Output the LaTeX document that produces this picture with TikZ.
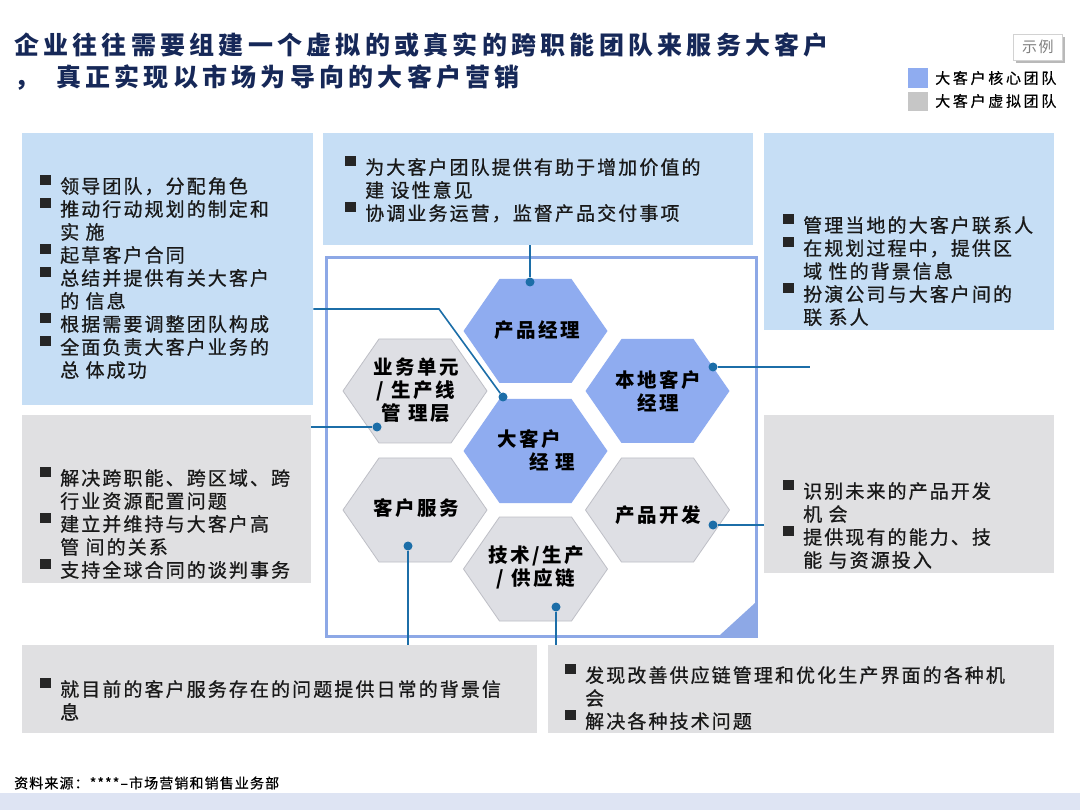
\documentclass[tikz,border=0pt]{standalone}
\usepackage{fontspec}
\setmainfont{Noto Sans CJK SC}
\usetikzlibrary{calc}

\definecolor{boxblue}{RGB}{198,222,245}
\definecolor{boxgrey}{RGB}{224,224,226}
\definecolor{hexblue}{RGB}{143,172,240}
\definecolor{hexgrey}{RGB}{222,223,228}
\definecolor{hexedge}{RGB}{190,191,198}
\definecolor{framec}{RGB}{141,168,230}
\definecolor{linkc}{RGB}{28,110,168}
\definecolor{titlec}{RGB}{22,40,88}
\definecolor{footc}{RGB}{222,228,243}

\newcommand\bsq{\makebox[20pt][l]{\raisebox{0.42em}[0pt][0pt]{\color{black!85}\rule{0.55em}{0.55em}}}}
\newcommand\ind{\hspace*{20pt}}
\newcommand\hexat[3]{\path[#3, shift={(#1,#2)}] (-72,0) -- (-36,-52) -- (36,-52) -- (72,0) -- (36,52) -- (-36,52) -- cycle;}

\tikzset{
  panel/.style={rectangle, draw=none, inner sep=0pt, anchor=north west},
  bluepanel/.style={panel, fill=boxblue},
  greypanel/.style={panel, fill=boxgrey},
  btext/.style={anchor=north west, inner sep=0pt, align=left, text=black!90,
    font=\fontsize{19}{23}\selectfont\addfontfeatures{LetterSpace=11,FakeBold=0.8}},
  hexlabel/.style={inner sep=0pt, align=center, text=black,
    font=\fontsize{19.5}{23}\selectfont\bfseries\addfontfeatures{LetterSpace=13}},
  corehex/.style={fill=hexblue},
  virthex/.style={fill=hexgrey, draw=hexedge, line width=0.8pt},
  link/.style={draw=linkc, line width=1.6pt},
  dot/.style={circle, fill=linkc, inner sep=0pt, minimum size=9pt},
  legtext/.style={anchor=west, inner sep=0pt, text=black,
    font=\fontsize{15}{18}\selectfont\addfontfeatures{LetterSpace=18,FakeBold=0.5}},
}

\begin{document}
\begin{tikzpicture}[x=1pt, y=-1pt]
\useasboundingbox (0,0) rectangle (1080,810);
\fill[white] (0,0) rectangle (1080,810);

% title
\node[anchor=west, inner sep=0pt, text=titlec,
  font=\fontsize{25}{30}\selectfont\bfseries\addfontfeatures{LetterSpace=17}]
  (t1) at (14,45) {企业往往需要组建一个虚拟的或真实的跨职能团队来服务大客户};
\node[anchor=west, inner sep=0pt, text=titlec,
  font=\fontsize{25}{30}\selectfont\bfseries\addfontfeatures{LetterSpace=17}]
  (t2) at (14,78) {，\hspace{17pt}真正实现以市场为导向的大客户营销};

% example tag and legend
\fill[gray!55] (1016,37) rectangle (1065,63);
\node[rectangle, fill=white, draw=gray!35, line width=0.6pt, minimum width=49pt,
  minimum height=26pt, inner sep=0pt, anchor=north west, text=gray,
  font=\fontsize{15}{18}\selectfont\addfontfeatures{LetterSpace=10}] (ex) at (1013,34) {示例};
\node[rectangle, fill=hexblue, minimum width=20pt, minimum height=20pt, inner sep=0pt, anchor=north west] (lg1) at (908,68) {};
\node[rectangle, fill=gray!45, minimum width=20pt, minimum height=19pt, inner sep=0pt, anchor=north west] (lg2) at (908,92) {};
\node[legtext] (lt1) at (935,78) {大客户核心团队};
\node[legtext] (lt2) at (935,101) {大客户虚拟团队};

% panels
\node[bluepanel, minimum width=291pt, minimum height=272pt] (lt) at (22,133) {};
\node[bluepanel, minimum width=430pt, minimum height=112pt] (tm) at (323,133) {};
\node[bluepanel, minimum width=290pt, minimum height=197pt] (tr) at (764,133) {};
\node[greypanel, minimum width=289pt, minimum height=168pt] (lg) at (22,415) {};
\node[greypanel, minimum width=290pt, minimum height=158pt] (rg) at (764,415) {};
\node[greypanel, minimum width=515pt, minimum height=88pt] (bl) at (22,645) {};
\node[greypanel, minimum width=506pt, minimum height=88pt] (br) at (548,645) {};

% panel texts
\node[btext] (ltx) at (40,177) {\bsq 领导团队，分配角色\\
\bsq 推动行动规划的制定和\\
\ind 实 施\\
\bsq 起草客户合同\\
\bsq 总结并提供有关大客户\\
\ind 的 信息\\
\bsq 根据需要调整团队构成\\
\bsq 全面负责大客户业务的\\
\ind 总 体成功};
\node[btext] (tmx) at (345,158) {\bsq 为大客户团队提供有助于增加价值的\\
\ind 建 设性意见\\
\bsq 协调业务运营，监督产品交付事项};
\node[btext] (trx) at (783,216) {\bsq 管理当地的大客户联系人\\
\bsq 在规划过程中，提供区\\
\ind 域 性的背景信息\\
\bsq 扮演公司与大客户间的\\
\ind 联 系人};
\node[btext] (lgx) at (40,469) {\bsq 解决跨职能、跨区域、跨\\
\ind 行业资源配置问题\\
\bsq 建立并维持与大客户高\\
\ind 管 间的关系\\
\bsq 支持全球合同的谈判事务};
\node[btext] (rgx) at (783,482) {\bsq 识别未来的产品开发\\
\ind 机 会\\
\bsq 提供现有的能力、技\\
\ind 能 与资源投入};
\node[btext] (blx) at (40,680) {\bsq 就目前的客户服务存在的问题提供日常的背景信\\
\ind 息};
\node[btext] (brx) at (565,666) {\bsq 发现改善供应链管理和优化生产界面的各种机\\
\ind 会\\
\bsq 解决各种技术问题};

% central frame
\node[rectangle, draw=framec, line width=3pt, minimum width=430pt, minimum height=379pt,
  inner sep=0pt, anchor=north west] (frame) at (325,256) {};
\fill[framec] (755,603) -- (755,635) -- (720,635) -- cycle;

% hexagons
\hexat{535.5}{331}{corehex}
\hexat{657.5}{391}{corehex}
\hexat{535.5}{451}{corehex}
\hexat{415}{391}{virthex}
\hexat{415}{510}{virthex}
\hexat{657.5}{510}{virthex}
\hexat{535.5}{569}{virthex}

\node[hexlabel] (pm) at (537,330) {产品经理};
\node[hexlabel] (ls) at (658,391) {本地客户\\经理};
\node[hexlabel, align=left] (km) at (536,450) {大客户\\\hspace*{32pt}经 理};
\node[hexlabel] (bu) at (416,390) {业务单元\\/ 生产线\\管 理层};
\node[hexlabel] (cs) at (416,508) {客户服务};
\node[hexlabel] (pd) at (658,515) {产品开发};
\node[hexlabel] (ts) at (536,567) {技术/生产\\/ 供应链};

% connector dots
\node[dot] (dpm) at (530,282) {};
\node[dot] (dkm) at (503,397) {};
\node[dot] (dbu) at (377,427) {};
\node[dot] (dls) at (713,367) {};
\node[dot] (dpd) at (713,525) {};
\node[dot] (dcs) at (408,546) {};
\node[dot] (dts) at (556,607) {};
\coordinate (bend) at (439,309);
\coordinate (lsend) at (810,367);

% connectors
\draw[link] (tm.south -| dpm) -- (dpm);
\draw[link] (lt.east |- bend) -- (bend) -- (dkm);
\draw[link] (lg.east |- dbu) -- (dbu);
\draw[link] (dls) -- (lsend);
\draw[link] (dpd) -- (rg.west |- dpd);
\draw[link] (dcs) -- (dcs |- bl.north);
\draw[link] (dts) -- (dts |- br.north);

% footer
\fill[footc] (0,793) rectangle (1080,810);
\node[anchor=west, inner sep=0pt, text=black,
  font=\fontsize{14}{16}\selectfont\addfontfeatures{LetterSpace=8,FakeBold=0.5}] (src) at (14,783) {资料来源：****–市场营销和销售业务部};
\end{tikzpicture}
\end{document}
